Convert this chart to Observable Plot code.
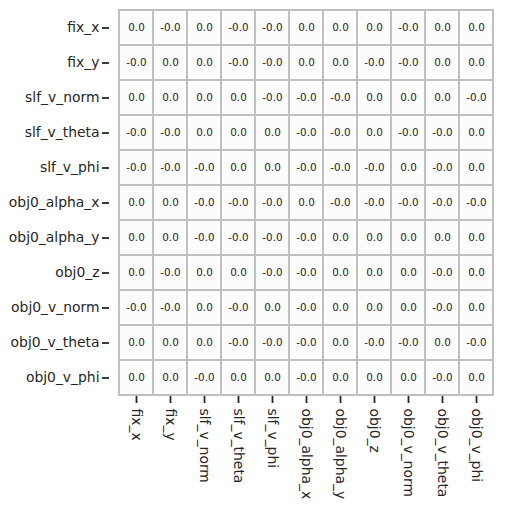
<!DOCTYPE html>
<html>
<head>
<meta charset="utf-8">
<script src="https://cdn.jsdelivr.net/npm/d3@7"></script>
<script src="https://cdn.jsdelivr.net/npm/@observablehq/plot@0.6"></script>
<style>
  html, body { margin: 0; padding: 0; background: #ffffff; }
  #chart svg { font-family: "DejaVu Sans", sans-serif; }
</style>
</head>
<body>
<div id="chart"></div>
<script>
const rows = ["fix_x","fix_y","slf_v_norm","slf_v_theta","slf_v_phi","obj0_alpha_x","obj0_alpha_y","obj0_z","obj0_v_norm","obj0_v_theta","obj0_v_phi"];
const cols = ["fix_x","fix_y","slf_v_norm","slf_v_theta","slf_v_phi","obj0_alpha_x","obj0_alpha_y","obj0_z","obj0_v_norm","obj0_v_theta","obj0_v_phi"];
// displayed values (all round to 0.0; sign kept as shown)
const values = [
  [ 0.0, -0.0,  0.0, -0.0, -0.0,  0.0,  0.0,  0.0, -0.0,  0.0,  0.0],
  [-0.0,  0.0,  0.0, -0.0, -0.0,  0.0,  0.0, -0.0, -0.0,  0.0,  0.0],
  [ 0.0,  0.0,  0.0,  0.0, -0.0, -0.0, -0.0,  0.0,  0.0,  0.0, -0.0],
  [-0.0, -0.0,  0.0,  0.0,  0.0, -0.0, -0.0,  0.0, -0.0, -0.0,  0.0],
  [-0.0, -0.0, -0.0,  0.0,  0.0, -0.0, -0.0, -0.0,  0.0, -0.0,  0.0],
  [ 0.0,  0.0, -0.0, -0.0, -0.0,  0.0, -0.0, -0.0, -0.0, -0.0, -0.0],
  [ 0.0,  0.0, -0.0, -0.0, -0.0, -0.0,  0.0,  0.0,  0.0,  0.0,  0.0],
  [ 0.0, -0.0,  0.0,  0.0, -0.0, -0.0,  0.0,  0.0,  0.0, -0.0,  0.0],
  [-0.0, -0.0,  0.0, -0.0,  0.0, -0.0,  0.0,  0.0,  0.0, -0.0,  0.0],
  [ 0.0,  0.0,  0.0, -0.0, -0.0, -0.0,  0.0, -0.0, -0.0,  0.0, -0.0],
  [ 0.0,  0.0, -0.0,  0.0,  0.0, -0.0,  0.0,  0.0,  0.0, -0.0,  0.0]
];

const table = [];
rows.forEach((r, i) => cols.forEach((c, j) => table.push({row: r, col: c, value: values[i][j]})));
const fmt = v => (v < 0 || Object.is(v, -0) ? "-" : "") + Math.abs(v).toFixed(1);

const ink = "#262626";
const chart = Plot.plot({
  width: 509,
  height: 509,
  marginLeft: 114,
  marginRight: 11,
  marginTop: 9,
  marginBottom: 114,
  style: {fontFamily: "DejaVu Sans, sans-serif", fontSize: "13.9px", color: ink, background: "#ffffff"},
  x: {domain: cols, padding: 0, label: null},
  y: {domain: rows, padding: 0, label: null},
  marks: [
    Plot.cell(table, {x: "col", y: "row", fill: "#fcfcfc", stroke: "#c0c0c0", strokeWidth: 2, inset: 0}),
    Plot.text(table, {x: "col", y: "row", text: d => fmt(d.value), fill: ink, fontSize: 10.4}),
    Plot.axisY({tickSize: 7, tickPadding: 3, dx: -5, strokeWidth: 1.8, fontSize: 13.9, label: null}),
    Plot.axisX({tickSize: 7, tickPadding: 5, dy: 1, tickRotate: 90, strokeWidth: 1.8, fontSize: 13.9, label: null})
  ]
});
document.getElementById("chart").appendChild(chart);
</script>
</body>
</html>
